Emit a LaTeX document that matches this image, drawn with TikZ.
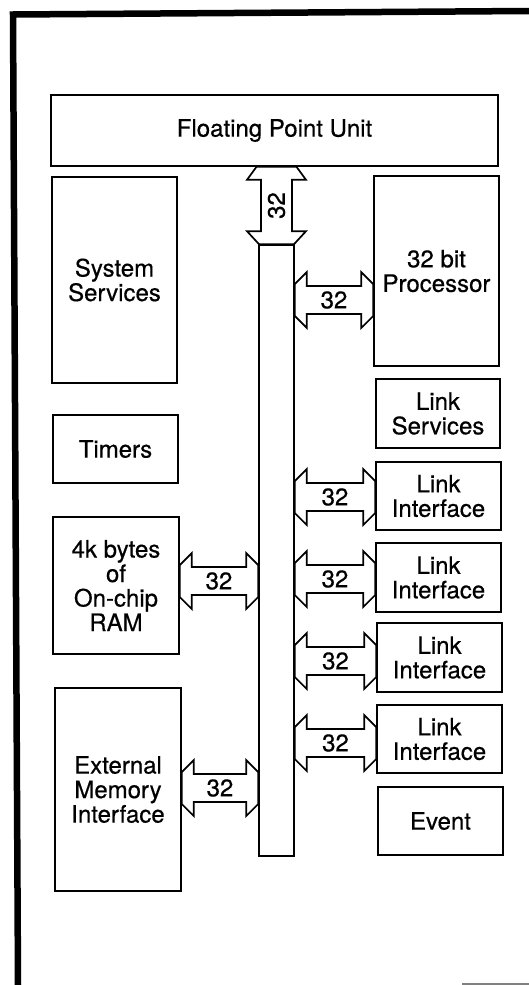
\documentclass[tikz,border=0pt]{standalone}
\usepackage{fontspec}
\setmainfont{TeX Gyre Heros}[FakeBold=0.5]
\usetikzlibrary{calc}
\newcommand\lbfont{\fontsize{24}{24.5}\selectfont}
\newcommand\bx[6]{\node[box, minimum width={#4-#2}, minimum height={#5-#3}] (#1) at ({(#2+#4)/2},{(#3+#5)/2}) {#6};}
\newcommand\harrow[3]{%
  \draw[busline] let \p1=(#1.east), \p2=(#2.west), \p3=(0,#3) in
   (\x1,{\y3+16pt}) -- ({\x1+12pt},{\y3+28pt}) -- ({\x1+12pt},{\y3+14pt}) --
   ({\x2-12pt},{\y3+14pt}) -- ({\x2-12pt},{\y3+28pt}) -- (\x2,{\y3+16pt}) --
   (\x2,{\y3-16pt}) -- ({\x2-12pt},{\y3-28pt}) -- ({\x2-12pt},{\y3-14pt}) --
   ({\x1+12pt},{\y3-14pt}) -- ({\x1+12pt},{\y3-28pt}) -- (\x1,{\y3-16pt}) -- cycle
   ({(\x1+\x2)/2},\y3) node[lbl] {32};}
\begin{document}
\begin{tikzpicture}[x=1pt,y=-1pt,
  box/.style={draw, line width=1.6pt, align=center, inner sep=0pt, font=\lbfont},
  busline/.style={line width=1.7pt, line join=miter},
  lbl/.style={font=\lbfont, inner sep=0pt}]
\useasboundingbox (0,0) rectangle (529,985);
% frame
\draw[line width=6.5pt, line join=miter] (18,985) -- (13,14.5) -- (529,11);
\draw[gray, line width=1.5pt] (462,984) -- (529,984);
% boxes
\bx{fpu}{51}{95}{498}{166}{Floating Point Unit}
\bx{sys}{52}{177}{177}{383}{System\\Services}
\bx{tim}{53}{415}{178}{483}{Timers}
\bx{ram}{53}{517}{179}{654}{4k bytes\\of\\On-chip\\RAM}
\bx{emi}{55}{688}{181}{891}{External\\Memory\\Interface}
\bx{proc}{374}{176}{499}{366}{32 bit\\Processor}
\bx{lsv}{376}{379}{500}{448}{Link\\Services}
\bx{li1}{376}{462}{501}{530}{Link\\Interface}
\bx{li2}{376}{543}{501}{612}{Link\\Interface}
\bx{li3}{377}{623}{502}{692}{Link\\Interface}
\bx{li4}{377}{705}{502}{773}{Link\\Interface}
\bx{evt}{378}{787}{503}{855}{Event}
\bx{bus}{259}{245}{294}{856}{}
% vertical arrow to FPU
\draw[busline] let \p1=(fpu.south), \p2=(bus.north), \p3=(bus.north) in
  ({\x3-20pt},\y1) -- ({\x3-29.5pt},{\y1-13pt}) -- ({\x3-15.5pt},{\y1-13pt}) --
  ({\x3-15.5pt},{\y2+13pt}) -- ({\x3-29.5pt},{\y2+13pt}) -- ({\x3-17.5pt},\y2) --
  ({\x3+17.5pt},\y2) -- ({\x3+29.5pt},{\y2+13pt}) -- ({\x3+15.5pt},{\y2+13pt}) --
  ({\x3+15.5pt},{\y1-13pt}) -- ({\x3+29.5pt},{\y1-13pt}) -- ({\x3+20pt},\y1) -- cycle
  (\x3,{(\y1+\y2)/2}) node[lbl, rotate=90] {32};
% horizontal arrows
\harrow{bus}{proc}{300}
\harrow{bus}{li1}{497}
\harrow{bus}{li2}{579}
\harrow{bus}{li3}{661}
\harrow{bus}{li4}{743}
\harrow{ram}{bus}{581}
\harrow{emi}{bus}{788}
\end{tikzpicture}
\end{document}
